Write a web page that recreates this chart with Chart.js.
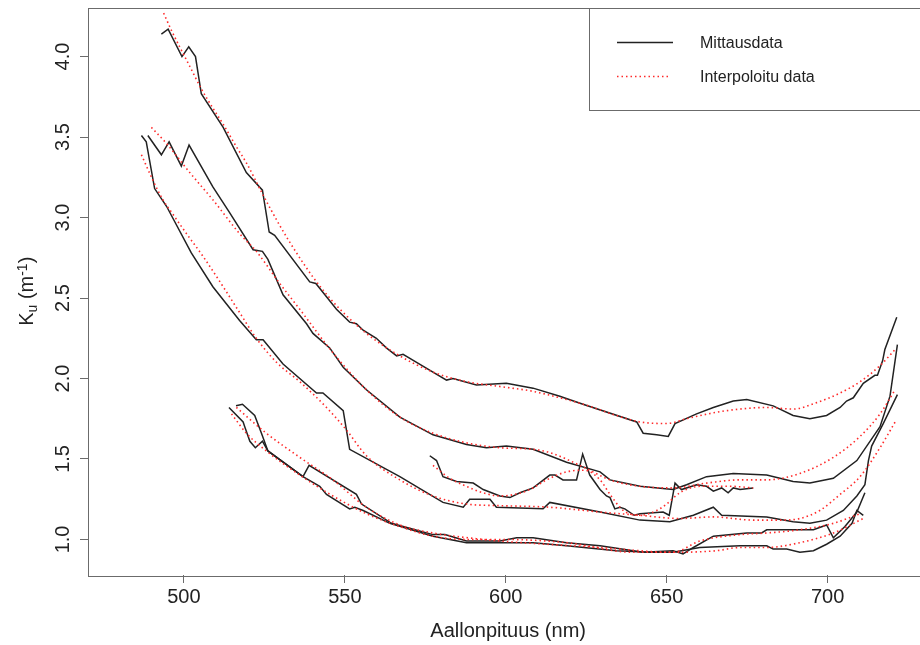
<!DOCTYPE html>
<html>
<head>
<meta charset="utf-8">
<script src="https://cdn.jsdelivr.net/npm/chart.js@4.4.0/dist/chart.umd.min.js"></script>
<style>
  html, body { margin: 0; padding: 0; background: #fff; overflow: hidden; }
  canvas { display: block; }
</style>
</head>
<body>
<canvas id="kuChart" width="940" height="645"></canvas>
<script>
// Mittausdata: wavelength (nm) and Ku, one pair of arrays per measurement
const mit1X = [493.0,495.1,499.4,501.5,503.6,505.4,512.2,519.4,524.4,526.5,528.2,539.1,541.0,547.4,551.5,553.6,555.7,559.8,562.9,566.1,568.1,572.3,581.6,583.6,590.9,600.2,608.5,616.8,624.0,640.7,642.7,646.9,650.5,652.6,659.3,664.5,670.7,674.9,683.1,689.3,694.5,699.7,703.9,705.9,708.0,711.1,714.7,715.5,717.1,717.8,721.5];
const mit1Y = [4.14,4.17,4.00,4.06,4.00,3.77,3.56,3.28,3.17,2.91,2.89,2.60,2.59,2.43,2.35,2.34,2.30,2.25,2.19,2.14,2.15,2.10,1.99,2.00,1.96,1.97,1.94,1.89,1.84,1.73,1.66,1.65,1.64,1.72,1.78,1.82,1.86,1.87,1.83,1.77,1.75,1.77,1.82,1.86,1.88,1.97,2.02,2.02,2.11,2.18,2.38];

const mit2X = [488.8,493.0,495.4,499.2,501.6,509.0,514.2,521.5,524.4,526.1,530.8,538.1,540.1,545.3,549.5,556.7,567.1,577.4,587.8,594.0,600.2,608.5,618.9,629.3,632.4,641.7,652.0,656.2,662.4,670.7,681.1,689.3,694.5,701.8,709.1,716.3,719.4,721.7];
const mit2Y = [3.51,3.39,3.47,3.32,3.45,3.19,3.03,2.80,2.79,2.74,2.52,2.34,2.28,2.19,2.07,1.93,1.76,1.65,1.59,1.57,1.58,1.56,1.48,1.42,1.37,1.33,1.31,1.34,1.39,1.41,1.40,1.36,1.35,1.38,1.49,1.70,1.89,2.21];

const mit3X = [486.8,488.3,490.9,494.6,502.3,509.0,517.3,522.5,524.6,530.8,541.2,543.2,549.5,551.5,567.1,580.5,586.8,588.8,595.1,597.1,611.6,613.7,629.3,641.7,651.0,658.3,664.5,667.1,681.1,689.3,694.5,699.7,704.9,709.1,711.6,712.7,713.7,717.3,721.7];
const mit3Y = [3.51,3.47,3.18,3.07,2.78,2.57,2.36,2.24,2.24,2.09,1.91,1.91,1.80,1.56,1.39,1.23,1.20,1.25,1.25,1.20,1.19,1.23,1.17,1.12,1.11,1.15,1.20,1.15,1.14,1.11,1.10,1.12,1.18,1.27,1.34,1.49,1.58,1.72,1.90];

const mit4X = [514.0,518.4,518.9,520.5,522.2,524.4,526.1,537.0,538.9,553.6,555.2,564.5,577.4,581.1,587.8,598.2,603.4,608.5,618.9,629.3,642.7,652.0,655.1,658.3,664.5,674.9,679.5,681.1,689.3,695.6,699.7,701.8,705.4,709.1,711.6];
const mit4Y = [1.82,1.73,1.70,1.61,1.57,1.61,1.55,1.39,1.46,1.28,1.22,1.10,1.03,1.03,0.99,0.99,1.01,1.01,0.98,0.96,0.92,0.93,0.91,0.95,1.02,1.04,1.04,1.06,1.06,1.06,1.09,1.01,1.08,1.17,1.29];

const mit5X = [516.2,518.2,522.0,524.1,526.1,537.0,542.2,544.3,551.5,553.1,555.7,564.0,577.4,587.8,598.2,608.5,618.9,634.4,644.8,652.0,660.3,672.8,681.1,683.1,687.3,691.4,695.6,699.7,703.9,707.6,709.1,711.1];
const mit5Y = [1.83,1.84,1.77,1.66,1.55,1.39,1.33,1.28,1.19,1.20,1.18,1.10,1.02,0.98,0.98,0.98,0.96,0.93,0.92,0.92,0.95,0.96,0.96,0.94,0.94,0.92,0.93,0.97,1.02,1.10,1.18,1.15];

const mit6X = [576.4,578.5,580.5,584.7,589.9,593.0,598.2,601.3,604.4,608.5,613.7,615.3,617.8,622.0,623.9,626.1,629.3,631.3,632.4,633.9,635.5,637.0,639.9,641.7,648.9,650.8,652.6,654.6,659.3,662.4,664.5,667.1,669.1,670.7,672.8,676.9];
const mit6Y = [1.52,1.49,1.39,1.36,1.35,1.31,1.27,1.26,1.29,1.32,1.40,1.40,1.37,1.37,1.53,1.40,1.31,1.27,1.26,1.19,1.20,1.19,1.15,1.16,1.17,1.15,1.35,1.31,1.34,1.33,1.30,1.32,1.29,1.32,1.31,1.32];

// Interpoloitu data
const int1X = [493.7,496.2,498.7,501.8,505.4,509.0,512.2,516.3,519.4,524.6,529.8,535.0,540.1,545.3,550.5,556.7,567.1,577.4,587.8,598.2,608.5,616.8,624.1,634.4,641.7,650.0,656.2,665.5,672.8,681.1,689.3,696.6,703.9,710.1,716.3,721.0];
const int1Y = [4.27,4.16,4.06,3.94,3.80,3.68,3.58,3.44,3.34,3.14,2.95,2.78,2.63,2.50,2.39,2.28,2.14,2.04,1.98,1.95,1.92,1.88,1.84,1.77,1.73,1.72,1.75,1.79,1.81,1.82,1.81,1.85,1.91,1.98,2.08,2.18];

const int2X = [489.9,494.6,501.8,509.0,517.3,522.5,529.8,536.0,546.3,556.7,567.1,577.4,587.8,598.2,608.5,613.7,624.1,632.4,641.7,652.0,662.4,672.8,681.1,691.4,701.8,710.1,716.3,721.0];
const int2Y = [3.56,3.46,3.28,3.11,2.90,2.79,2.59,2.43,2.16,1.93,1.76,1.66,1.60,1.57,1.56,1.54,1.45,1.37,1.33,1.32,1.35,1.37,1.37,1.41,1.51,1.64,1.78,1.93];

const int3X = [486.8,490.4,493.5,496.6,500.8,505.9,512.2,517.3,522.5,528.8,536.0,544.3,550.5,556.7,567.1,577.4,587.8,598.2,613.7,629.3,641.7,654.1,664.5,676.9,685.2,691.4,697.6,703.9,710.1,716.3,721.0];
const int3Y = [3.39,3.23,3.11,3.02,2.90,2.76,2.57,2.41,2.25,2.10,1.98,1.82,1.68,1.52,1.37,1.27,1.22,1.21,1.20,1.17,1.15,1.13,1.14,1.12,1.12,1.13,1.18,1.28,1.39,1.57,1.73];

const int4X = [514.8,519.4,525.6,536.0,546.3,556.7,567.1,577.4,587.8,598.2,618.9,639.6,652.0,660.3,672.8,681.1,691.4,701.8,710.1];
const int4Y = [1.78,1.66,1.55,1.40,1.27,1.16,1.08,1.02,1.00,1.00,0.98,0.92,0.92,0.99,1.03,1.04,1.06,1.10,1.16];

const int5X = [516.3,525.6,536.0,546.3,556.7,567.1,577.4,593.0,598.2,629.3,652.0,665.5,672.8,681.1,691.4,701.8,711.1];
const int5Y = [1.82,1.66,1.51,1.37,1.20,1.09,1.04,1.00,0.99,0.95,0.92,0.93,0.95,0.95,0.98,1.04,1.13];

const int6X = [577.4,582.6,587.8,592.9,598.2,602.8,607.5,612.7,618.9,624.6,629.3,632.4,636.5,641.7,646.9,650.0,654.1,660.3,669.7,676.9];
const int6Y = [1.46,1.38,1.33,1.29,1.27,1.28,1.31,1.37,1.42,1.43,1.37,1.28,1.18,1.15,1.18,1.22,1.29,1.33,1.33,1.32];

const xTicks = [500, 550, 600, 650, 700];
const yTicks = [1.0, 1.5, 2.0, 2.5, 3.0, 3.5, 4.0];

const measured = [[mit1X, mit1Y], [mit2X, mit2Y], [mit3X, mit3Y], [mit4X, mit4Y], [mit5X, mit5Y], [mit6X, mit6Y]];
const fitted = [[int1X, int1Y], [int2X, int2Y], [int3X, int3Y], [int4X, int4Y], [int5X, int5Y], [int6X, int6Y]];

const BLACK = "#222222";
const RED = "#ff2a2a";
const RED_DASH = [1.5, 3];
const FRAME = "#6b6b6b";
const FONT = '"Liberation Sans", Arial, sans-serif';

function toPoints(xs, ys) {
  return xs.map((x, i) => ({ x: x, y: ys[i] }));
}

let datasets = [];
measured.forEach(m => {
  datasets.push({
    label: "Mittausdata",
    data: toPoints(m[0], m[1]),
    borderColor: BLACK,
    borderWidth: 1.5,
    pointRadius: 0,
    tension: 0,
    order: 1
  });
});
fitted.forEach(f => {
  datasets.push({
    label: "Interpoloitu data",
    data: toPoints(f[0], f[1]),
    borderColor: RED,
    borderWidth: 1.6,
    borderDash: RED_DASH,
    pointRadius: 0,
    cubicInterpolationMode: "monotone",
    order: 0
  });
});

// frame, tick labels, axis titles and legend drawn R-style
const rFrame = {
  id: "rFrame",
  afterDraw(chart) {
    const ctx = chart.ctx;
    const a = chart.chartArea;
    const xs = chart.scales.x;
    const ys = chart.scales.y;
    ctx.save();

    ctx.strokeStyle = FRAME;
    ctx.lineWidth = 1;
    ctx.strokeRect(Math.round(a.left) + 0.5, Math.round(a.top) + 0.5,
      Math.round(a.right - a.left), Math.round(a.bottom - a.top));

    ctx.fillStyle = "#222";
    ctx.font = "20px " + FONT;
    ctx.textAlign = "center";
    ctx.textBaseline = "middle";
    xTicks.forEach(v => {
      ctx.fillText(String(v), xs.getPixelForValue(v), a.bottom + 22.5);
    });
    yTicks.forEach(v => {
      ctx.save();
      ctx.translate(a.left - 25, ys.getPixelForValue(v));
      ctx.rotate(-Math.PI / 2);
      ctx.fillText(v.toFixed(1), 0, 0);
      ctx.restore();
    });

    // x title
    ctx.fillText("Aallonpituus (nm)", (a.left + a.right) / 2, 631);

    // y title: K_u (m^-1)
    const parts = [
      { t: "K", size: 20, dy: 0 },
      { t: "u", size: 14, dy: 3.5 },
      { t: " (m", size: 20, dy: 0 },
      { t: "-1", size: 14, dy: -6 },
      { t: ")", size: 20, dy: 0 }
    ];
    let total = 0;
    parts.forEach(p => {
      ctx.font = p.size + "px " + FONT;
      p.w = ctx.measureText(p.t).width;
      total += p.w;
    });
    ctx.save();
    ctx.translate(33.3, (a.top + a.bottom) / 2);
    ctx.rotate(-Math.PI / 2);
    ctx.textAlign = "left";
    ctx.textBaseline = "alphabetic";
    let px = -total / 2;
    parts.forEach(p => {
      ctx.font = p.size + "px " + FONT;
      ctx.fillText(p.t, px, p.dy);
      px += p.w;
    });
    ctx.restore();

    // legend box in the top right corner
    const lx = 589.5, ly = Math.round(a.top) + 0.5, lb = 110.5;
    ctx.fillStyle = "#fff";
    ctx.fillRect(lx, ly, a.right - lx, lb - ly);
    ctx.strokeStyle = FRAME;
    ctx.lineWidth = 1;
    ctx.strokeRect(lx, ly, Math.round(a.right) - lx, lb - ly);

    ctx.lineWidth = 1.5;
    ctx.strokeStyle = BLACK;
    ctx.beginPath();
    ctx.moveTo(617, 42.5);
    ctx.lineTo(673, 42.5);
    ctx.stroke();

    ctx.lineWidth = 1.6;
    ctx.strokeStyle = RED;
    ctx.setLineDash(RED_DASH);
    ctx.beginPath();
    ctx.moveTo(617, 76.5);
    ctx.lineTo(671, 76.5);
    ctx.stroke();
    ctx.setLineDash([]);

    ctx.fillStyle = "#222";
    ctx.font = "16px " + FONT;
    ctx.textAlign = "left";
    ctx.textBaseline = "middle";
    ctx.fillText("Mittausdata", 700, 43.2);
    ctx.fillText("Interpoloitu data", 700, 77.3);

    ctx.restore();
  }
};

const ctx = document.getElementById("kuChart").getContext("2d");
const kuChart = new Chart(ctx, {
  type: "line",
  data: { datasets: datasets },
  options: {
    responsive: false,
    animation: false,
    devicePixelRatio: 1,
    layout: { padding: { top: 7.5, right: 11.7, left: 0, bottom: 0 } },
    plugins: {
      legend: { display: false },
      tooltip: { enabled: false }
    },
    scales: {
      x: {
        type: "linear",
        min: 470.2,
        max: 731.3,
        afterBuildTicks: s => { s.ticks = xTicks.map(v => ({ value: v })); },
        afterFit: s => { s.height = 70; },
        ticks: { display: false },
        grid: { drawOnChartArea: false, drawTicks: true, tickLength: 8, color: FRAME },
        border: { display: false }
      },
      y: {
        type: "linear",
        min: 0.779,
        max: 4.305,
        afterBuildTicks: s => { s.ticks = yTicks.map(v => ({ value: v })); },
        afterFit: s => { s.width = 88; },
        ticks: { display: false },
        grid: { drawOnChartArea: false, drawTicks: true, tickLength: 8, color: FRAME },
        border: { display: false }
      }
    }
  },
  plugins: [rFrame]
});
</script>
</body>
</html>
